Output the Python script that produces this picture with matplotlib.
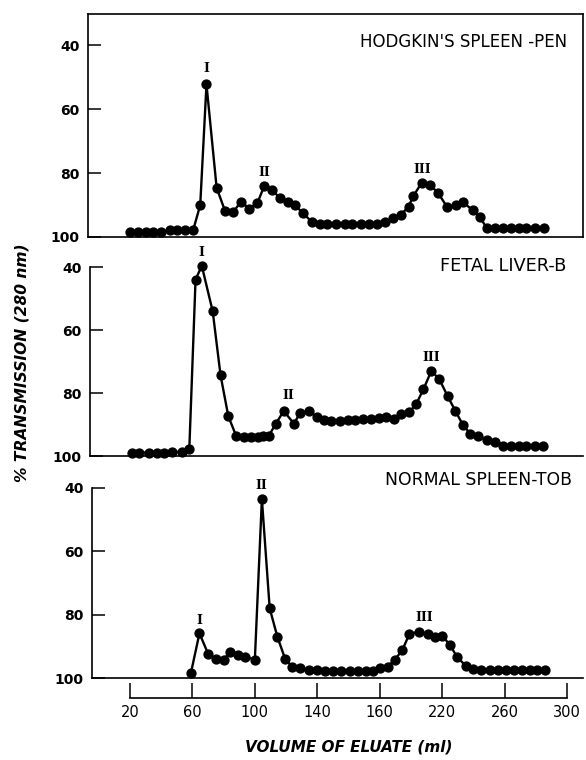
import matplotlib
matplotlib.use("Agg")
import matplotlib.pyplot as plt

# ---------------- data ----------------
hod_x = [20, 25, 30, 35, 40, 45.5, 50, 55.5, 60.5, 65, 69, 75.5, 81, 86, 91, 96.5,
         101.5, 106, 111, 116, 121, 125.5, 131, 136.5, 141.5, 146.5, 152, 157.5,
         162.5, 168, 173, 178, 183.5, 188.5, 193.5, 198.5, 201.5, 207, 212.5, 217.5,
         223, 229, 233.5, 239.5, 244, 248.5, 254, 259, 264, 269, 274, 279.5, 285]
hod_y = [98.5, 98.5, 98.5, 98.5, 98.5, 97.8, 97.8, 97.8, 97.8, 90.0, 52.3, 84.6,
         92.0, 92.3, 89.0, 91.1, 89.5, 84.1, 85.4, 87.7, 89.2, 90.0, 92.6, 95.3,
         95.9, 95.9, 95.9, 95.9, 95.9, 95.9, 95.9, 95.9, 95.4, 94.2, 93.1, 90.5,
         87.2, 83.0, 83.8, 86.3, 90.5, 90.0, 89.2, 91.6, 93.7, 97.1, 97.1, 97.1,
         97.1, 97.1, 97.1, 97.1, 97.1]

fet_x = [21, 26, 32, 37, 42, 47, 53, 58, 62, 66, 73, 78, 83, 88, 93, 97.5, 102,
         105.5, 109, 113.5, 118.5, 125, 129, 135, 139.5, 144.5, 149, 154.5, 159.5,
         164, 169.5, 174.5, 179.5, 184, 189, 193.5, 199, 203.5, 208, 213, 218,
         223.5, 228.5, 233.5, 238, 243, 248.5, 254, 259, 264, 269, 274, 279.5, 284.5]
fet_y = [98.9, 98.9, 98.9, 98.9, 98.9, 98.8, 98.7, 97.8, 44.0, 39.6, 54.1, 74.3,
         87.4, 93.6, 93.9, 93.9, 93.9, 93.8, 93.5, 89.7, 85.7, 89.7, 86.4, 85.7,
         87.6, 88.5, 88.8, 88.9, 88.7, 88.5, 88.2, 88.1, 87.9, 87.6, 88.1, 86.8,
         86.0, 83.4, 78.8, 73.1, 75.4, 81.0, 85.7, 90.3, 92.9, 93.7, 95.0, 95.7,
         96.8, 96.8, 96.8, 96.8, 96.8, 96.8]

nor_x = [59, 64.5, 70, 75, 80, 84, 89, 94, 100, 104.5, 109.5, 114.5, 119.5, 124,
         129, 134.5, 140, 145, 150, 155.5, 161, 166, 171, 176, 180, 185, 189.5,
         194.5, 199, 205, 211, 215.5, 220, 225, 229.5, 235, 240, 245, 250.5, 255.5,
         261, 266, 271, 276, 281, 286]
nor_y = [98.5, 85.9, 92.3, 94.1, 94.2, 91.9, 92.7, 93.3, 94.2, 43.5, 78.0, 87.1,
         94.1, 96.4, 96.9, 97.5, 97.5, 97.7, 97.7, 97.7, 97.7, 97.7, 97.7, 97.7,
         96.9, 96.4, 94.3, 91.2, 86.1, 85.4, 86.1, 87.0, 86.6, 89.6, 93.3, 96.1,
         97.2, 97.5, 97.5, 97.5, 97.5, 97.5, 97.5, 97.5, 97.5, 97.5]

panel_titles = ["HODGKIN'S SPLEEN -PEN", "FETAL LIVER-B", "NORMAL SPLEEN-TOB"]
peak_labels = ["I", "II", "III"]
# peak label anchor positions (ml, %T) per panel
hod_peaks = [(69, 47.2), (106, 79.7), (207.5, 78.8)]
fet_peaks = [(66, 35.3), (121.5, 80.7), (213.3, 68.7)]
nor_peaks = [(64.2, 82.0), (104, 39.1), (208.4, 81.0)]

y_ticks = [40, 60, 80, 100]
x_ticks = [20, 60, 100, 140, 180, 220, 260, 300]
x_ticklabels = ["20", "60", "100", "140", "160", "220", "260", "300"]
x_label = "VOLUME OF ELUATE (ml)"
y_label = "% TRANSMISSION (280 nm)"

# ---------------- layout ----------------
W, H = 586, 760
fig = plt.figure(figsize=(W / 100, H / 100), dpi=100)

PX_PER_ML = (567 - 130) / 280.0


def ml_at(px):
    return 20 + (px - 130) / PX_PER_ML


def add_axes(left, right, top, bottom):
    return fig.add_axes([left / W, 1 - bottom / H, (right - left) / W, (bottom - top) / H])


title_font = ['DejaVu Sans']
roman_font = ['DejaVu Serif']

panels = [
    dict(x=hod_x, y=hod_y, box=(88, 583, 14, 237), ytop=30.3, peaks=hod_peaks,
         title=panel_titles[0], tpos=(567, 42), tsize=12.0, full=True),
    dict(x=fet_x, y=fet_y, box=(90, 583, 251, 456), ytop=34.9, peaks=fet_peaks,
         title=panel_titles[1], tpos=(566, 266), tsize=12.8, full=False),
    dict(x=nor_x, y=nor_y, box=(92, 583, 472, 678), ytop=34.95, peaks=nor_peaks,
         title=panel_titles[2], tpos=(572, 480), tsize=12.4, full=False),
]

for p in panels:
    l, r, t, b = p["box"]
    ax = add_axes(l, r, t, b)
    ax.plot(p["x"], p["y"], color="black", lw=1.7, marker="o", ms=6.4,
            mfc="black", mec="black", clip_on=False, zorder=3)
    ax.set_xlim(ml_at(l), ml_at(r))
    ax.set_ylim(100, p["ytop"])
    ax.set_yticks(y_ticks)
    ax.set_yticklabels([str(v) for v in y_ticks], fontsize=10, fontweight="bold")
    ax.set_xticks([])
    ax.tick_params(axis="y", direction="in", length=9, width=1.1, pad=6)
    for s in ax.spines.values():
        s.set_linewidth(1.2)
    if not p["full"]:
        ax.spines["top"].set_visible(False)
        ax.spines["right"].set_visible(False)
        ax.spines["left"].set_bounds(100, 40)
    for lab, (px_, py_) in zip(peak_labels, p["peaks"]):
        ax.text(px_, py_, lab, ha="center", va="center", fontsize=9,
                fontweight="bold", family=roman_font, clip_on=False)
    fig.text(p["tpos"][0] / W, 1 - p["tpos"][1] / H, p["title"], ha="right",
             va="center", fontsize=p["tsize"], family=title_font)

# separate x axis
axx = add_axes(88, 583, 660, 698)
axx.set_xlim(ml_at(88), ml_at(583))
axx.set_ylim(0, 1)
for k in ["top", "right", "left"]:
    axx.spines[k].set_visible(False)
axx.spines["bottom"].set_bounds(20, 300)
axx.spines["bottom"].set_linewidth(1.2)
axx.set_yticks([])
axx.set_xticks(x_ticks)
axx.set_xticklabels(x_ticklabels, fontsize=10.5)
axx.tick_params(axis="x", direction="in", length=11, width=1.1, pad=5)
axx.patch.set_visible(False)

fig.text(349 / W, 1 - 747 / H, x_label, ha="center", va="center",
         fontsize=11, fontweight="bold", style="italic")
fig.text(22 / W, 1 - 363 / H, y_label, ha="center", va="center", rotation=90,
         fontsize=11.2, fontweight="bold", style="italic")

fig.savefig("out.png", dpi=100)
